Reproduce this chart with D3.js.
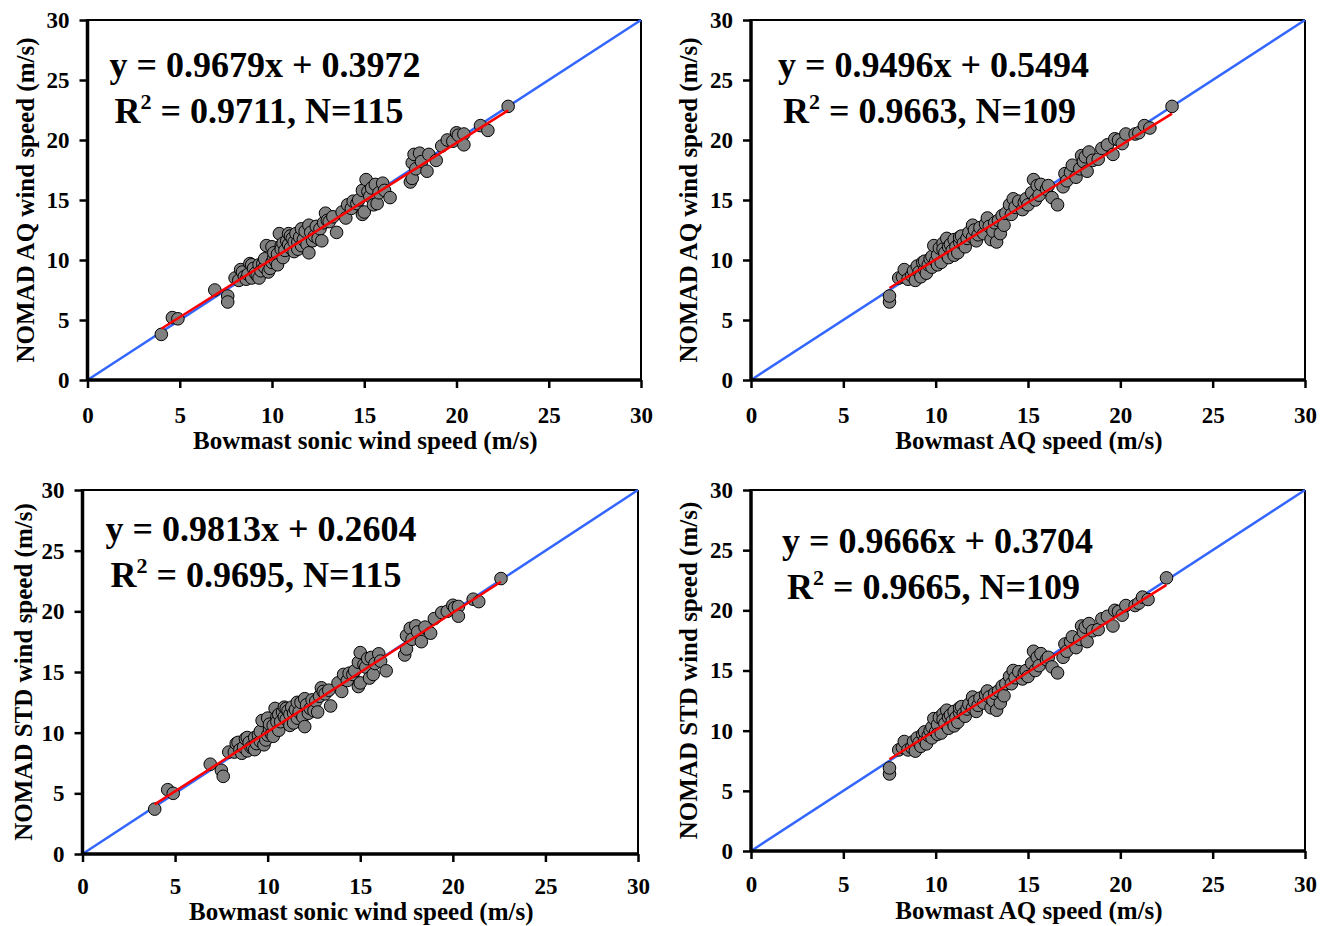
<!DOCTYPE html>
<html>
<head>
<meta charset="utf-8">
<script src="https://cdn.jsdelivr.net/npm/d3@7"></script>
<style>
  body { margin: 0; background: #fff; }
  text { font-family: "Liberation Serif", "Times New Roman", serif; font-weight: bold; fill: #000; }
</style>
</head>
<body>
<svg id="chart" width="1320" height="926"></svg>
<script>
// ticks shared by every panel
var tickValues = [0, 5, 10, 15, 20, 25, 30];

// Bowmast sonic (x) vs NOMAD AQ (y), N=115
var sonicVsAQ = [
  [4.0,3.8],[4.6,5.2],[4.9,5.1],[6.9,7.5],[7.6,7.0],[7.6,6.5],
  [8.0,8.5],[8.2,8.3],[8.3,9.2],[8.4,9.0],[8.5,8.6],[8.6,8.4],[8.7,8.8],[8.8,9.7],[8.9,8.5],[8.9,9.6],
  [9.0,9.3],[9.1,8.9],[9.2,8.7],[9.3,9.6],[9.3,8.5],[9.4,9.1],[9.5,9.7],[9.6,9.4],[9.6,10.1],[9.7,11.2],
  [9.8,9.0],[9.9,9.3],[10.0,9.8],[10.0,11.1],[10.1,10.2],[10.1,10.6],[10.2,9.9],[10.3,10.5],[10.3,9.6],
  [10.4,12.2],[10.5,11.2],[10.5,10.9],[10.6,11.4],[10.6,10.2],[10.7,10.8],[10.8,11.6],[10.9,12.2],[10.9,11.3],
  [11.0,11.0],[11.0,12.0],[11.1,11.8],[11.2,10.7],[11.2,11.5],[11.3,12.2],[11.4,11.5],[11.4,10.9],[11.5,11.9],
  [11.6,11.2],[11.6,12.6],[11.7,11.7],[11.8,12.4],[11.9,11.3],[12.0,10.6],[12.0,12.9],[12.1,12.3],[12.2,11.6],
  [12.3,12.0],[12.4,12.8],[12.5,11.8],[12.6,12.6],[12.7,11.6],[12.8,13.1],[12.9,13.9],[13.0,13.3],[13.1,13.2],
  [13.3,13.6],[13.5,12.3],[13.8,14.0],[14.0,13.5],[14.1,14.6],[14.3,14.3],[14.4,14.9],[14.6,14.7],[14.7,15.0],
  [14.9,15.8],[14.9,13.8],[15.0,14.0],[15.1,16.7],[15.2,15.7],[15.3,15.3],[15.4,16.0],[15.5,14.6],[15.6,16.3],
  [15.7,14.7],[15.8,15.6],[16.0,16.4],[16.1,15.8],[16.4,15.2],[17.5,16.5],[17.6,16.8],[17.6,18.1],[17.7,18.8],
  [17.8,17.6],[18.0,18.9],[18.1,18.2],[18.4,17.4],[18.5,18.8],[18.9,18.3],[19.2,19.5],[19.5,20.0],[19.8,19.9],
  [20.0,20.6],[20.1,20.4],[20.4,20.5],[20.4,19.6],[21.3,21.2],[21.7,20.8],[22.8,22.8]
];

// Bowmast AQ (x) vs NOMAD AQ (y), N=109
var aqVsAQ = [
  [7.5,6.5],[7.5,7.0],[8.0,8.5],[8.2,8.6],[8.3,9.2],[8.5,8.4],[8.7,8.7],[8.8,9.1],[8.9,8.3],[9.0,9.5],
  [9.1,9.0],[9.2,8.6],[9.3,9.8],[9.4,9.2],[9.4,9.9],[9.5,8.9],[9.6,9.6],[9.7,10.1],[9.8,9.4],[9.8,10.3],
  [9.9,11.2],[10.0,9.9],[10.1,10.4],[10.1,9.6],[10.2,11.0],[10.3,9.8],[10.4,11.4],[10.4,10.9],[10.5,10.6],
  [10.6,11.8],[10.7,10.2],[10.7,11.1],[10.8,11.3],[10.9,10.8],[11.0,11.7],[11.0,10.4],[11.1,11.1],[11.2,10.6],
  [11.3,11.5],[11.3,11.9],[11.4,12.0],[11.5,11.4],[11.6,11.1],[11.7,11.8],[11.8,12.3],[12.0,11.9],[12.0,12.9],
  [12.1,12.5],[12.2,11.6],[12.3,12.1],[12.4,12.7],[12.6,12.2],[12.7,13.0],[12.8,13.5],[12.9,12.8],[13.0,11.7],
  [13.1,12.4],[13.2,13.1],[13.3,11.5],[13.4,13.3],[13.5,12.2],[13.6,13.7],[13.7,12.9],[13.8,13.9],[14.0,14.6],
  [14.1,13.8],[14.2,15.1],[14.3,14.4],[14.5,14.9],[14.7,14.2],[14.8,14.8],[14.9,15.1],[15.0,14.6],[15.2,15.6],
  [15.3,16.7],[15.4,15.0],[15.5,16.2],[15.6,15.4],[15.7,16.3],[16.0,15.9],[16.1,16.2],[16.3,15.2],[16.6,14.6],
  [16.9,16.1],[17.0,17.2],[17.1,16.6],[17.3,17.3],[17.4,17.9],[17.6,16.9],[17.8,17.6],[17.9,18.7],[18.0,18.2],
  [18.1,18.6],[18.2,17.4],[18.3,19.0],[18.5,18.3],[18.8,18.4],[19.0,19.3],[19.3,19.6],[19.6,18.8],[19.7,20.1],
  [19.9,20.0],[20.1,19.7],[20.3,20.5],[20.8,20.5],[21.0,20.6],[21.3,21.2],[21.6,21.0],[22.8,22.8]
];

// Bowmast sonic (x) vs NOMAD STD (y), N=115
var sonicVsSTD = [
  [3.9,3.7],[4.6,5.3],[4.9,5.0],[6.9,7.4],[7.5,6.9],[7.6,6.4],
  [7.9,8.4],[8.2,8.4],[8.3,9.1],[8.4,9.2],[8.5,8.6],[8.6,8.3],[8.7,8.8],[8.8,9.5],[8.9,8.5],[8.9,9.6],
  [9.0,9.2],[9.1,8.8],[9.2,8.8],[9.3,9.6],[9.3,8.6],[9.4,9.1],[9.5,9.8],[9.6,9.3],[9.6,10.1],[9.7,11.0],
  [9.8,9.0],[9.9,9.4],[10.0,9.8],[10.0,11.2],[10.1,10.3],[10.1,10.7],[10.2,9.9],[10.3,10.6],[10.3,9.7],
  [10.4,12.0],[10.5,11.3],[10.5,10.9],[10.6,11.5],[10.6,10.2],[10.7,10.9],[10.8,11.7],[10.9,12.1],[10.9,11.3],
  [11.0,11.1],[11.0,12.0],[11.1,11.8],[11.2,10.6],[11.2,11.5],[11.3,12.1],[11.4,11.6],[11.4,10.8],[11.5,11.9],
  [11.6,11.2],[11.6,12.5],[11.7,11.7],[11.8,12.5],[11.9,11.3],[12.0,10.5],[12.0,12.8],[12.1,12.3],[12.2,11.6],
  [12.3,12.0],[12.4,12.7],[12.5,11.8],[12.6,12.6],[12.7,11.7],[12.8,13.0],[12.9,13.7],[13.0,13.4],[13.1,13.2],
  [13.3,13.5],[13.4,12.2],[13.8,14.1],[14.0,13.4],[14.1,14.8],[14.3,14.3],[14.4,14.9],[14.6,14.8],[14.7,15.1],
  [14.9,15.8],[14.9,13.8],[15.0,14.1],[15.0,16.6],[15.2,15.6],[15.3,15.4],[15.4,16.1],[15.5,14.5],[15.6,16.2],
  [15.7,14.8],[15.8,15.7],[16.0,16.5],[16.1,15.9],[16.4,15.1],[17.4,16.4],[17.5,16.9],[17.5,18.0],[17.7,18.6],
  [17.8,17.7],[18.0,18.8],[18.1,18.3],[18.3,17.5],[18.5,18.7],[18.8,18.2],[19.0,19.4],[19.4,19.9],[19.7,20.0],
  [20.0,20.5],[20.1,20.3],[20.3,20.4],[20.3,19.6],[21.1,21.0],[21.4,20.8],[22.6,22.7]
];

// Bowmast AQ (x) vs NOMAD STD (y), N=109
var aqVsSTD = [
  [7.5,6.4],[7.5,6.9],[8.0,8.4],[8.2,8.6],[8.3,9.1],[8.5,8.4],[8.7,8.6],[8.8,9.1],[8.9,8.3],[9.0,9.4],
  [9.1,9.0],[9.2,8.7],[9.3,9.7],[9.4,9.2],[9.4,9.9],[9.5,8.9],[9.6,9.6],[9.7,10.0],[9.8,9.4],[9.8,10.3],
  [9.9,11.0],[10.0,9.9],[10.1,10.5],[10.1,9.7],[10.2,11.1],[10.3,9.8],[10.4,11.4],[10.4,10.9],[10.5,10.6],
  [10.6,11.7],[10.7,10.2],[10.7,11.1],[10.8,11.3],[10.9,10.8],[11.0,11.6],[11.0,10.4],[11.1,11.1],[11.2,10.7],
  [11.3,11.5],[11.3,11.9],[11.4,12.0],[11.5,11.4],[11.6,11.2],[11.7,11.8],[11.8,12.2],[12.0,11.9],[12.0,12.8],
  [12.1,12.4],[12.2,11.6],[12.3,12.1],[12.4,12.7],[12.6,12.3],[12.7,13.0],[12.8,13.3],[12.9,12.8],[13.0,11.9],
  [13.1,12.5],[13.2,13.1],[13.3,11.7],[13.4,13.3],[13.5,12.3],[13.6,13.7],[13.7,12.9],[13.8,13.9],[14.0,14.5],
  [14.1,13.9],[14.2,15.0],[14.3,14.4],[14.5,14.9],[14.7,14.3],[14.8,14.8],[14.9,15.0],[15.0,14.5],[15.2,15.6],
  [15.3,16.6],[15.4,15.0],[15.5,16.1],[15.6,15.4],[15.7,16.4],[16.0,15.9],[16.1,16.1],[16.3,15.3],[16.6,14.8],
  [16.9,16.1],[17.0,17.2],[17.1,16.6],[17.3,17.4],[17.4,17.8],[17.6,16.9],[17.8,17.6],[17.9,18.7],[18.0,18.2],
  [18.1,18.6],[18.2,17.4],[18.3,18.9],[18.5,18.3],[18.8,18.4],[19.0,19.3],[19.3,19.5],[19.6,18.7],[19.7,20.0],
  [19.9,19.9],[20.1,19.6],[20.3,20.4],[20.8,20.4],[21.0,20.6],[21.2,21.1],[21.5,20.9],[22.5,22.7]
];

// fit lines: slope, intercept
var fitSlopes = [0.9679, 0.9496, 0.9813, 0.9666];
var fitIntercepts = [0.3972, 0.5494, 0.2604, 0.3704];
var fitR2 = ["0.9711", "0.9663", "0.9695", "0.9665"];
var fitN = [115, 109, 115, 109];

var xTitles = ["Bowmast sonic wind speed (m/s)", "Bowmast AQ speed (m/s)",
               "Bowmast sonic wind speed (m/s)", "Bowmast AQ speed (m/s)"];
var yTitles = ["NOMAD AQ wind speed (m/s)", "NOMAD AQ wind speed (m/s)",
               "NOMAD STD wind speed (m/s)", "NOMAD STD wind speed (m/s)"];

var panelData = [sonicVsAQ, aqVsAQ, sonicVsSTD, aqVsSTD];

// plot box of each panel in page pixels
var boxes = [
  {left: 87.5, top: 20, right: 641, bottom: 380, eqX: 22, eqY: 56, titleX: 34, titleDy: 69, pad: 19},
  {left: 751, top: 20, right: 1305, bottom: 380, eqX: 27, eqY: 56, titleX: 697, titleDy: 69, pad: 19},
  {left: 82.5, top: 490, right: 638, bottom: 854, eqX: 23, eqY: 50, titleX: 32, titleDy: 66, pad: 16},
  {left: 751, top: 490, right: 1305, bottom: 851, eqX: 31, eqY: 62, titleX: 697, titleDy: 68, pad: 17}
];

var svg = d3.select("#chart");

function drawPanel(i) {
  var b = boxes[i], data = panelData[i];
  var w = b.right - b.left, h = b.bottom - b.top;
  var x = d3.scaleLinear().domain([0, 30]).range([0, w]);
  var y = d3.scaleLinear().domain([0, 30]).range([h, 0]);

  var g = svg.append("g").attr("transform", "translate(" + b.left + "," + b.top + ")");

  // axes
  var xa = g.append("g").attr("transform", "translate(0," + h + ")")
    .call(d3.axisBottom(x).tickValues(tickValues).tickSize(8).tickPadding(b.pad));
  var ya = g.append("g")
    .call(d3.axisLeft(y).tickValues(tickValues).tickSize(8).tickPadding(10));
  [xa, ya].forEach(function(a) {
    a.select(".domain").remove();
    a.selectAll(".tick line").attr("stroke", "#000").attr("stroke-width", 2.5);
    a.selectAll(".tick text")
      .style("font-family", '"Liberation Serif", "Times New Roman", serif')
      .style("font-weight", "bold").style("font-size", "23px").attr("fill", "#000");
  });

  // frame: thin top/right, heavier left/bottom
  g.append("line").attr("x1", 0).attr("x2", w).attr("y1", 0).attr("y2", 0)
    .attr("stroke", "#000").attr("stroke-width", 2);
  g.append("line").attr("x1", w).attr("x2", w).attr("y1", 0).attr("y2", h)
    .attr("stroke", "#000").attr("stroke-width", 2);

  // 1:1 line
  g.append("line")
    .attr("x1", x(0)).attr("y1", y(0)).attr("x2", x(30)).attr("y2", y(30))
    .attr("stroke", "#3366ff").attr("stroke-width", 2.5);

  g.selectAll("circle").data(data).enter().append("circle")
    .attr("cx", function(d) { return x(d[0]); })
    .attr("cy", function(d) { return y(d[1]); })
    .attr("r", 6.3)
    .attr("fill", "#808080").attr("stroke", "#000").attr("stroke-width", 1);

  // regression line over the range of x
  var ext = d3.extent(data, function(d) { return d[0]; });
  var a = fitSlopes[i], c = fitIntercepts[i];
  g.append("line")
    .attr("x1", x(ext[0])).attr("y1", y(a * ext[0] + c))
    .attr("x2", x(ext[1])).attr("y2", y(a * ext[1] + c))
    .attr("stroke", "#ff0000").attr("stroke-width", 2.5);

  g.append("line").attr("x1", 0).attr("x2", 0).attr("y1", -1).attr("y2", h)
    .attr("stroke", "#000").attr("stroke-width", 3.5);
  g.append("line").attr("x1", 0).attr("x2", w).attr("y1", h).attr("y2", h)
    .attr("stroke", "#000").attr("stroke-width", 3.5);

  // equation text
  g.append("text").attr("x", b.eqX).attr("y", b.eqY + 1).style("font-size", "36px")
    .text("y = " + a.toFixed(4) + "x + " + c.toFixed(4));
  var t2 = g.append("text").attr("x", b.eqX + 5).attr("y", b.eqY + 47).style("font-size", "36px");
  t2.append("tspan").text("R");
  t2.append("tspan").attr("dy", -14).style("font-size", "22px").text("2");
  t2.append("tspan").attr("dy", 14).text(" = " + fitR2[i] + ", N=" + fitN[i]);

  // axis titles
  g.append("text").attr("x", w / 2 + 1).attr("y", h + b.titleDy).attr("text-anchor", "middle")
    .style("font-size", "25px").text(xTitles[i]);
  g.append("text").attr("transform", "translate(" + (b.titleX - b.left) + "," + (h / 2) + ") rotate(-90)")
    .attr("text-anchor", "middle").style("font-size", "25px").text(yTitles[i]);
}

d3.range(4).forEach(drawPanel);
</script>
</body>
</html>
